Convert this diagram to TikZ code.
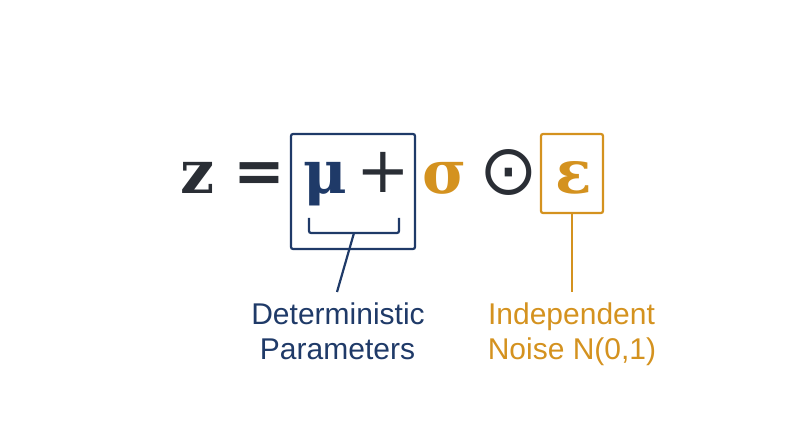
\documentclass[tikz,border=0pt]{standalone}
\usepackage{fontspec}
\setmainfont{Liberation Sans}
\newfontfamily\eqfont{DejaVu Serif}
\newfontfamily\symfont{DejaVu Sans}
\definecolor{navy}{HTML}{1F3A68}
\definecolor{gold}{HTML}{D4921F}
\definecolor{ink}{HTML}{2A2E35}
\begin{document}
\begin{tikzpicture}[x=1pt,y=1pt,
  eq/.style={anchor=base, inner sep=0pt, font=\eqfont\bfseries\fontsize{60}{60}\selectfont},
  op/.style={anchor=base, inner sep=0pt, text=ink, font=\symfont\fontsize{64}{64}\selectfont},
  lbl/.style={anchor=base, inner sep=0pt, font=\fontsize{30}{30}\selectfont},
  frame/.style={draw, line width=2.2pt, rounded corners=2pt, inner sep=0pt}]
\useasboundingbox (0,0) rectangle (800,447);
% boxes
\node[frame, draw=navy, minimum width=124pt, minimum height=115pt] (bluebox) at (353,255.5) {};
\node[frame, draw=gold, minimum width=62pt, minimum height=79pt] (goldbox) at (572,273.5) {};
% equation
\node[eq, text=ink] (z) at (198,253) {z};
\node[op, font=\symfont\bfseries\fontsize{62}{62}\selectfont] (eqsign) at (259,254) {=};
\node[eq, text=navy] (mu) at (325,253) {μ};
\node[op] (plus) at (383,254) {+};
\node[eq, text=gold] (sigma) at (445,253) {σ};
\node[op, font=\symfont\fontsize{70}{70}\selectfont] (odot) at (508.5,252) {⊙};
\node[eq, text=gold] (eps) at (574,253) {ε};
% bracket
\coordinate (bl) at (309,229);
\coordinate (br) at (399,229);
\coordinate (bm) at (354,214);
\draw[navy, line width=2.2pt, rounded corners=2pt] (bl) -- (309,214) -- (399,214) -- (br);
% labels
\node[lbl, text=navy] (det1) at (338,122) {Deterministic};
\node[lbl, text=navy] (det2) at (337.5,87) {Parameters};
\node[lbl, text=gold] (ind1) at (571.5,122) {Independent};
\node[lbl, text=gold] (ind2) at (572,87) {Noise N(0,1)};
\coordinate (detend) at (337,155);
\coordinate (indend) at (572,155);
\draw[navy, line width=2.2pt] (bm) -- (detend);
\draw[gold, line width=2.2pt] (goldbox.south) -- (indend);
\end{tikzpicture}
\end{document}
